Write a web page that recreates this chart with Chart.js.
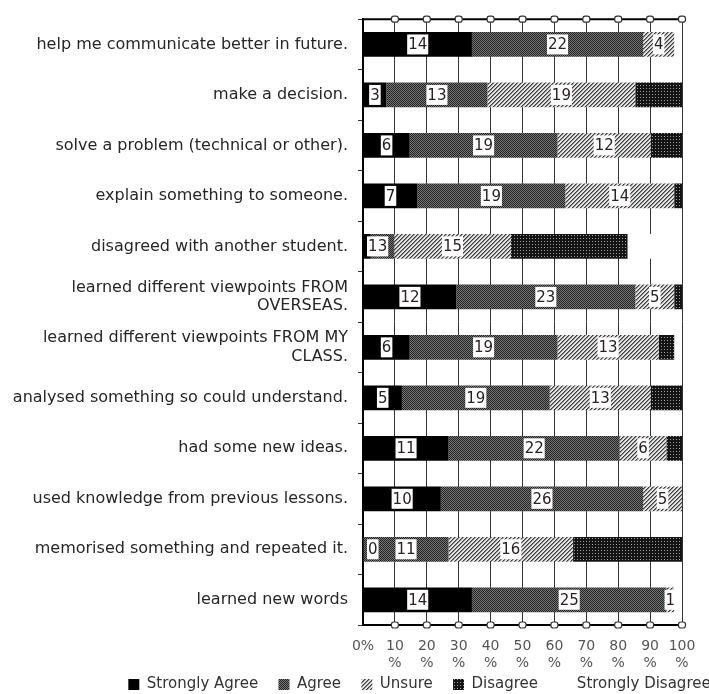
<!DOCTYPE html>
<html>
<head>
<meta charset="utf-8">
<script src="https://cdn.jsdelivr.net/npm/chart.js@4.4.1/dist/chart.umd.min.js"></script>
<style>
  html, body { margin: 0; padding: 0; background: #fff; overflow: hidden; width: 709px; height: 694px; }
  #wrap { position: absolute; left: 0; top: 0; width: 839px; height: 694px; }
</style>
</head>
<body>
<div id="wrap"><canvas id="c" width="839" height="694"></canvas></div>
<script>
// Survey statements (one bar each)
const categories = [
  'help me communicate better in future.',
  'make a decision.',
  'solve a problem (technical or other).',
  'explain something to someone.',
  'disagreed with another student.',
  ['learned different viewpoints FROM', 'OVERSEAS.'],
  ['learned different viewpoints FROM MY', 'CLASS.'],
  'analysed something so could understand.',
  'had some new ideas.',
  'used knowledge from previous lessons.',
  'memorised something and repeated it.',
  'learned new words'
];

// Number of responses per answer
const stronglyAgree    = [14, 3, 6, 7, 1, 12, 6, 5, 11, 10, 0, 14];
const agree            = [22, 13, 19, 19, 3, 23, 19, 19, 22, 26, 11, 25];
const unsure           = [4, 19, 12, 14, 15, 5, 13, 13, 6, 5, 16, 1];
const disagree         = [0, 6, 4, 1, 15, 1, 2, 4, 2, 0, 14, 0];
const stronglyDisagree = [1, 0, 0, 0, 7, 0, 1, 0, 0, 0, 0, 1];

const seriesNames = ['Strongly Agree', 'Agree', 'Unsure', 'Disagree', 'Strongly Disagree'];
const xTickValues = [0, 10, 20, 30, 40, 50, 60, 70, 80, 90, 100];

const counts = [stronglyAgree, agree, unsure, disagree, stronglyDisagree];
const totals = categories.map((_, i) => counts.reduce((s, arr) => s + arr[i], 0));
const toPercent = arr => arr.map((v, i) => v / totals[i] * 100);

// Monochrome fill textures
function makePattern(size, paint) {
  const c = document.createElement('canvas');
  c.width = size; c.height = size;
  const g = c.getContext('2d');
  paint(g);
  return g.createPattern(c, 'repeat');
}
const px = (g, x, y, col) => { g.fillStyle = col; g.fillRect(x, y, 1, 1); };

const agreeFill = makePattern(2, g => {
  px(g, 0, 0, '#222222'); px(g, 1, 1, '#222222');
  px(g, 1, 0, '#767676'); px(g, 0, 1, '#767676');
});
const unsureFill = makePattern(4, g => {
  g.fillStyle = '#e2e2e2'; g.fillRect(0, 0, 4, 4);
  for (let x = 0; x < 4; x++) for (let y = 0; y < 4; y++) {
    const d = (x + y) % 4;
    if (d === 3) px(g, x, y, '#3c3c3c');
    else if (d === 0) px(g, x, y, '#8a8a8a');
  }
});
const disagreeFill = makePattern(3, g => {
  g.fillStyle = '#141414'; g.fillRect(0, 0, 3, 3);
  px(g, 1, 1, '#a0a0a0');
});

const fills = ['#000000', agreeFill, unsureFill, disagreeFill, '#ffffff'];
const labelledSeries = [0, 1, 2];

// White boxed count labels at the middle of each segment
const valueLabels = {
  id: 'valueLabels',
  afterDatasetsDraw(chart) {
    const { ctx, chartArea: a } = chart;
    ctx.save();
    ctx.font = '15px "DejaVu Sans"';
    ctx.textAlign = 'center';
    ctx.textBaseline = 'middle';
    labelledSeries.forEach(di => {
      const meta = chart.getDatasetMeta(di);
      meta.data.forEach((bar, j) => {
        const { x, base, y } = bar.getProps(['x', 'base', 'y'], true);
        const txt = String(counts[di][j]);
        const w = ctx.measureText(txt).width + 2;
        let cx = (x + base) / 2;
        cx = Math.max(cx, a.left + 4 + w / 2);
        ctx.fillStyle = '#ffffff';
        ctx.fillRect(cx - w / 2, y - 10, w, 20);
        ctx.fillStyle = '#2a2222';
        ctx.fillText(txt, cx, y + 1);
      });
    });
    ctx.restore();
  }
};

// Top edge of the plot and the round tick markers on both horizontal edges
const frame = {
  id: 'frame',
  afterDraw(chart) {
    const { ctx, chartArea: a, scales: { x } } = chart;
    ctx.save();
    ctx.strokeStyle = '#000';
    ctx.lineWidth = 2;
    ctx.beginPath();
    ctx.moveTo(a.left - 1, a.top);
    ctx.lineTo(a.right + 1, a.top);
    ctx.stroke();
    x.ticks.forEach(t => {
      if (t.value === 0) return;
      const p = x.getPixelForValue(t.value);
      [a.top, a.bottom].forEach(py => {
        ctx.beginPath();
        ctx.roundRect(p - 3.5, py - 3, 7, 6, 2.5);
        ctx.fillStyle = '#fff';
        ctx.fill();
        ctx.lineWidth = 1.2;
        ctx.strokeStyle = '#333';
        ctx.stroke();
      });
    });
    ctx.restore();
  }
};

new Chart(document.getElementById('c'), {
  type: 'bar',
  data: {
    labels: categories,
    datasets: seriesNames.map((name, i) => ({
      label: name,
      data: toPercent(counts[i]),
      backgroundColor: fills[i],
      borderWidth: 0,
      barPercentage: 0.49,
      categoryPercentage: 1
    }))
  },
  options: {
    indexAxis: 'y',
    responsive: false,
    devicePixelRatio: 1,
    animation: false,
    layout: { padding: { top: 15, left: 0, right: 0, bottom: 0 } },
    scales: {
      x: {
        stacked: true,
        min: 0,
        max: 100,
        afterBuildTicks: s => { s.ticks = xTickValues.map(v => ({ value: v })); },
        afterFit: s => { s.height = 46; },
        grid: { color: '#333', lineWidth: 1, drawTicks: false },
        border: { display: true, color: '#000', width: 2 },
        ticks: {
          padding: 13,
          maxRotation: 0,
          autoSkip: false,
          color: '#555',
          font: { family: 'DejaVu Sans', size: 14, lineHeight: 1.2 },
          callback: v => v === 0 ? '0%' : [String(v), '%']
        }
      },
      y: {
        stacked: true,
        afterFit: s => { s.width = 363; },
        grid: { offset: true, drawOnChartArea: false, drawTicks: true, tickLength: 5, color: '#333' },
        border: { display: true, color: '#000', width: 2 },
        ticks: {
          padding: 10,
          autoSkip: false,
          color: '#262626',
          font: { family: 'DejaVu Sans', size: 16, lineHeight: 1.15 }
        }
      },
      pad: {
        type: 'linear',
        position: 'right',
        display: true,
        afterFit: s => { s.width = 157; },
        grid: { display: false },
        border: { display: false },
        ticks: { display: false }
      }
    },
    plugins: {
      legend: {
        position: 'bottom',
        maxHeight: 23,
        labels: {
          boxWidth: 11,
          boxHeight: 11,
          padding: 6,
          color: '#333',
          font: { family: 'DejaVu Sans', size: 15 },
          generateLabels(chart) {
            const items = Chart.defaults.plugins.legend.labels.generateLabels(chart);
            items.forEach((it, i) => {
              if (i < items.length - 1) it.text = it.text + '   ';
            });
            return items;
          }
        }
      },
      tooltip: { enabled: false }
    }
  },
  plugins: [valueLabels, frame]
});
</script>
</body>
</html>
